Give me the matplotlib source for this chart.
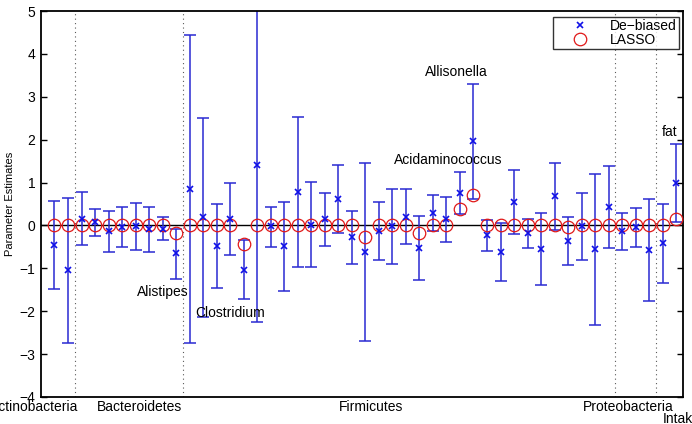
import numpy as np
import matplotlib
matplotlib.use('Agg')
import matplotlib.pyplot as plt
from matplotlib.lines import Line2D

plt.rcParams['font.family'] = ['Liberation Sans', 'DejaVu Sans']

# 去偏估计及置信区间
debiased = [-0.46, -1.04, 0.16, 0.09, -0.12, -0.03, -0.02, -0.09, -0.08, -0.65,
            0.86, 0.19, -0.48, 0.16, -1.03, 1.41, -0.02, -0.48, 0.79, 0.01,
            0.14, 0.62, -0.27, -0.61, -0.12, -0.01, 0.20, -0.52, 0.30, 0.15,
            0.75, 1.96, -0.23, -0.63, 0.54, -0.17, -0.54, 0.68, -0.36, -0.02,
            -0.56, 0.44, -0.13, -0.04, -0.57, -0.41, 0.99]
upper = [0.57, 0.64, 0.78, 0.39, 0.34, 0.44, 0.53, 0.44, 0.20, -0.08,
         4.45, 2.51, 0.49, 0.99, -0.34, 5.07, 0.44, 0.54, 2.53, 1.01,
         0.75, 1.42, 0.34, 1.46, 0.54, 0.85, 0.85, 0.22, 0.71, 0.66,
         1.24, 3.29, 0.13, 0.05, 1.29, 0.16, 0.30, 1.46, 0.19, 0.76,
         1.20, 1.38, 0.30, 0.41, 0.61, 0.51, 1.89]
lower = [-1.48, -2.73, -0.45, -0.24, -0.61, -0.51, -0.58, -0.61, -0.35, -1.24,
         -2.73, -2.13, -1.45, -0.69, -1.72, -2.25, -0.50, -1.52, -0.96, -0.98,
         -0.48, -0.17, -0.89, -2.69, -0.80, -0.89, -0.43, -1.27, -0.12, -0.39,
         0.26, 0.61, -0.60, -1.30, -0.21, -0.52, -1.40, -0.10, -0.92, -0.80,
         -2.33, -0.52, -0.57, -0.51, -1.76, -1.35, 0.07]
# LASSO估计
lasso = [0, 0, 0, 0, 0, 0, 0, 0, 0, -0.17,
         0, 0, 0, 0, -0.44, 0, 0, 0, 0, 0,
         0, 0, 0, -0.28, 0, 0, 0, -0.17, 0, 0,
         0.39, 0.72, 0, 0, 0, 0, 0, 0, -0.03, 0,
         0, 0, 0, 0, 0, 0, 0.16]

# 分组
groups = ['Actinobacteria', 'Bacteroidetes', 'Firmicutes', 'Proteobacteria', 'Intake']
group_sep = [2.5, 10.5, 42.5, 45.5]
group_label_x = [2.77, 7.28, 24.43, 43.42, 46.0]

# 标注
names = ['Alistipes', 'Clostridium', 'Allisonella', 'Acidaminococcus', 'fat']
name_x = [9.0, 14.0, 30.7, 30.1, 46.5]
name_y = [-1.55, -2.03, 3.58, 1.53, 2.18]

x = np.arange(1, len(debiased) + 1)
debiased = np.array(debiased)
err = [debiased - np.array(lower), np.array(upper) - debiased]

fig = plt.figure(figsize=(6.92, 4.24), dpi=100)
ax = fig.add_axes([0.0592, 0.0637, 0.9278, 0.9103])

blue = '#2a2ad2'
ax.errorbar(x, debiased, yerr=err, fmt='none', ecolor=blue, elinewidth=1.1,
            capsize=4.3, capthick=1.1, zorder=2)
ax.plot(x, debiased, 'x', color='#1010e8', markersize=4.5, markeredgewidth=1.2, zorder=4)
ax.plot(x, lasso, 'o', markerfacecolor='none', markeredgecolor='#e01818',
        markersize=9, markeredgewidth=0.9, zorder=3)

ax.axhline(0, color='black', lw=1.0, zorder=1)
for s in group_sep:
    ax.axvline(s, color='0.35', lw=0.8, ls=(0, (1, 3)), zorder=0)

ax.set_xlim(0, 47.5)
ax.set_ylim(-4, 5)
ax.set_yticks(range(-4, 6))
ax.set_yticklabels([str(v).replace('-', '\u2212') for v in range(-4, 6)])
ax.set_xticks([])
ax.tick_params(axis='y', direction='in', length=4, width=1, right=True, labelsize=10, pad=4)
for sp in ax.spines.values():
    sp.set_linewidth(1.3)
ax.set_ylabel('Parameter Estimates', fontsize=8, labelpad=3)

for n, xx, yy in zip(names, name_x, name_y):
    ax.text(xx, yy, n, ha='center', va='center', fontsize=10)

# 底部分组名
for i in range(len(groups)):
    if i == 0:
        ax.annotate(groups[i], xy=(group_label_x[i], 0), xycoords=('data', 'axes fraction'),
                    xytext=(0, -7), textcoords='offset points', ha='right', va='center',
                    fontsize=10, annotation_clip=False)
    elif groups[i] == 'Intake':
        ax.annotate(groups[i], xy=(group_label_x[i], 0), xycoords=('data', 'axes fraction'),
                    xytext=(0, -15.5), textcoords='offset points', ha='left', va='center',
                    fontsize=10, annotation_clip=False)
    else:
        ax.annotate(groups[i], xy=(group_label_x[i], 0), xycoords=('data', 'axes fraction'),
                    xytext=(0, -7), textcoords='offset points', ha='center', va='center',
                    fontsize=10, annotation_clip=False)

handles = [Line2D([], [], ls='none', marker='x', color='#1010e8', markersize=4.5, markeredgewidth=1.2),
           Line2D([], [], ls='none', marker='o', markerfacecolor='none', markeredgecolor='#e01818',
                  markersize=9, markeredgewidth=0.9)]
leg = ax.legend(handles, ['De\u2212biased', 'LASSO'], loc='upper right',
                bbox_to_anchor=(0.994, 0.985), fontsize=10, frameon=True, fancybox=False,
                handlelength=3.5, handletextpad=0.45, borderpad=0.15, labelspacing=0.0,
                borderaxespad=0)
leg.get_frame().set_edgecolor('black')
leg.get_frame().set_linewidth(1.0)

fig.savefig('out.png', dpi=100)
